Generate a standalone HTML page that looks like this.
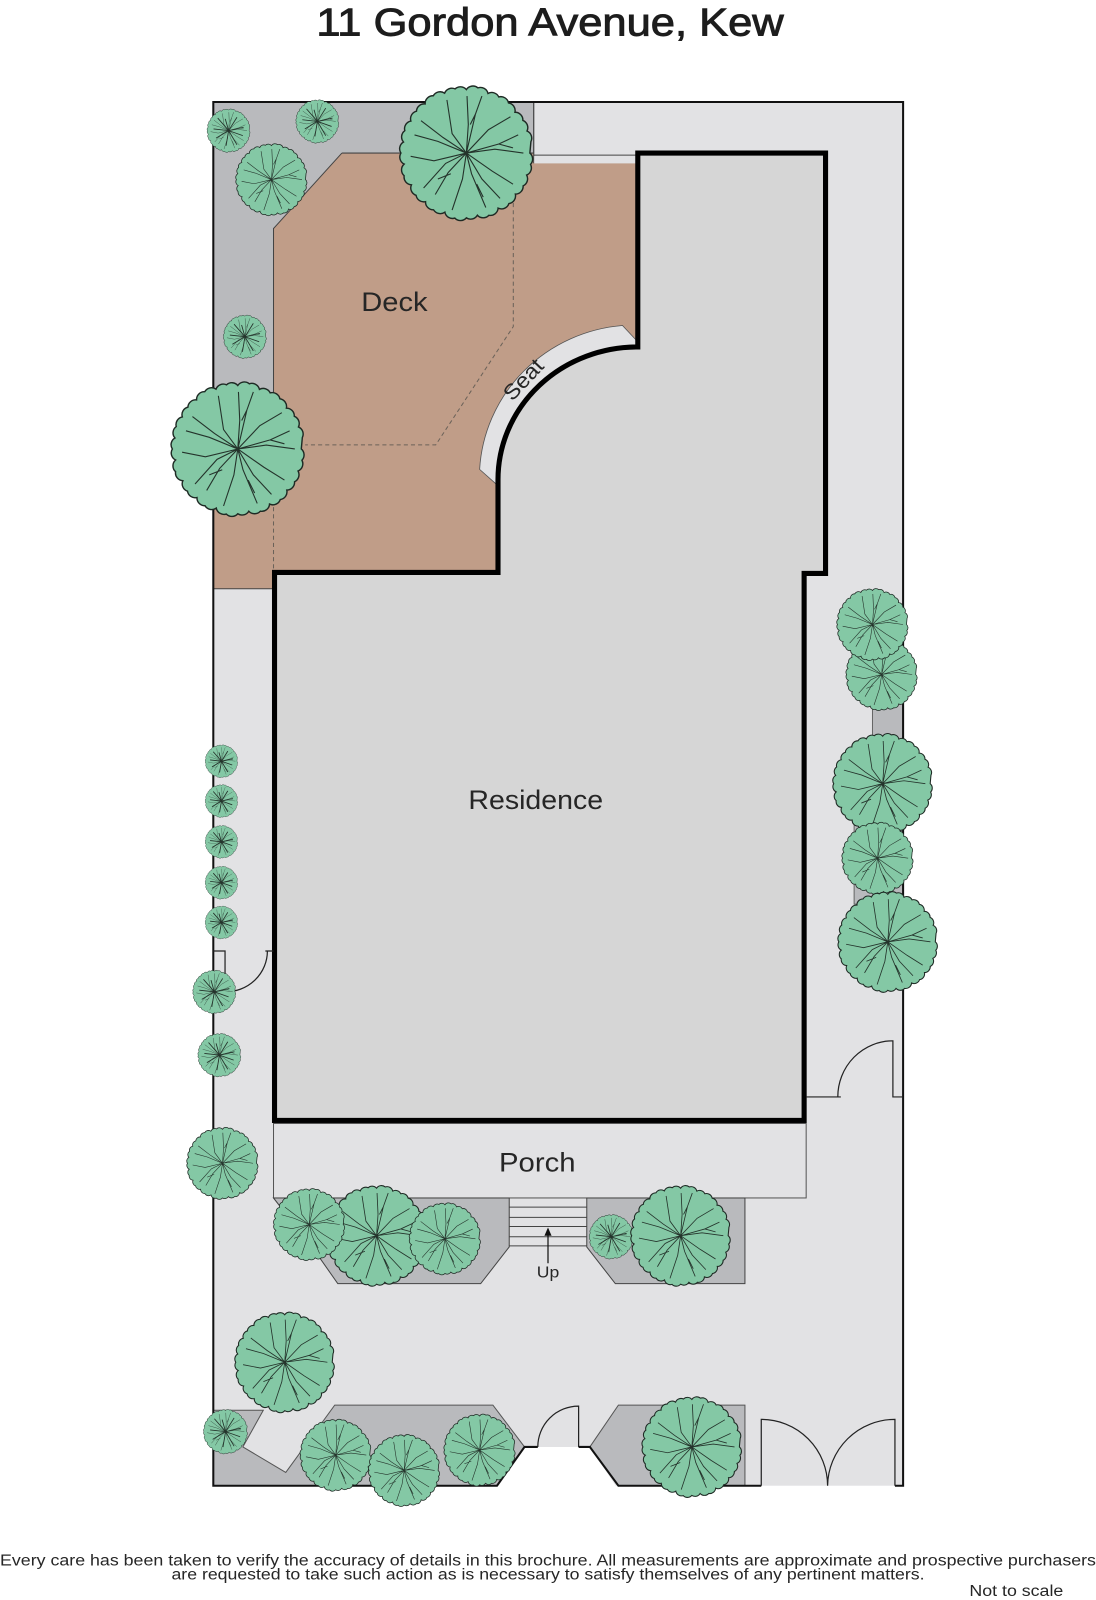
<!DOCTYPE html>
<html><head><meta charset="utf-8"><title>11 Gordon Avenue, Kew</title>
<style>
html,body{margin:0;padding:0;background:#fff}
svg{display:block}
text{font-family:"Liberation Sans",sans-serif;fill:#262626}
.t *{vector-effect:non-scaling-stroke}
.o{fill:#84c8a5;stroke:#1e2a24;stroke-width:1.1}
.b{fill:none;stroke:#24332b;stroke-width:.85}
.l{fill:none;stroke:#222;stroke-width:1.2}
</style></head><body>
<svg xmlns="http://www.w3.org/2000/svg" width="1096" height="1600" viewBox="0 0 1074 1568">
<defs>
<path id="edge" class="o" d="M49 0A6 6 0 0 1 49.5 8.7A6 6 0 0 1 46.5 17A6 6 0 0 1 43.8 25.3A6 6 0 0 1 37.8 31.7A6 6 0 0 1 32.8 39A6 6 0 0 1 24.5 42.5A6 6 0 0 1 17.4 48A6 6 0 0 1 8.5 48A6 6 0 0 1 0 50A6 6 0 0 1 -8.9 50.2A6 6 0 0 1 -16.6 45.6A6 6 0 0 1 -25.3 43.8A6 6 0 0 1 -31.5 37.5A6 6 0 0 1 -38.8 32.6A6 6 0 0 1 -42.4 24.5A6 6 0 0 1 -48 17.5A6 6 0 0 1 -48 8.5A6 6 0 0 1 -50.5 0A6 6 0 0 1 -48.5 -8.5A6 6 0 0 1 -47.5 -17.3A6 6 0 0 1 -42.8 -24.7A6 6 0 0 1 -38.5 -32.3A6 6 0 0 1 -31.8 -37.9A6 6 0 0 1 -25.5 -44.2A6 6 0 0 1 -16.8 -46.2A6 6 0 0 1 -8.7 -49.5A6 6 0 0 1 0 -49A6 6 0 0 1 8.9 -50.3A6 6 0 0 1 16.7 -46A6 6 0 0 1 25 -43.3A6 6 0 0 1 32.5 -38.7A6 6 0 0 1 37.5 -31.5A6 6 0 0 1 43.6 -25.2A6 6 0 0 1 46.8 -17A6 6 0 0 1 49.8 -8.8Z"/>
<path id="br" class="b" d="M0 0L-11 -15L-15 -41M0 0L1.5 -22L0.5 -44M0 0L7 -30L12 -44M7 -30L3 -22M0 0L17 -18L34 -28M0 0L25 -7L40 -14M25 -7L36 -4M0 0L22 -3L44 0M0 0L20 14L36 24M0 0L12 20L26 35M0 0L4 16L15 42M8 24L13 34M0 0L-3 20L-11 44M0 0L-14 15L-24 32M0 0L-16 8L-33 27M-12 16L-22 20M0 0L-25 6L-43 2.5M0 0L-22 -9L-40 -14M0 0L-18 -12L-35 -25"/>
<g id="t" class="t"><use href="#edge"/><use href="#br"/></g>
<g id="s" class="t"><use href="#edge"/><use href="#br"/><path class="b" d="M0 0L-8 -28M0 0L20 -32M0 0L36 -8M0 0L34 12M0 0L20 34M0 0L-6 36M0 0L-30 18M0 0L-36 -4M0 0L-26 -30"/></g>
</defs>

<!-- site -->
<rect x="209" y="100" width="676" height="1356" fill="#e2e2e4"/>
<!-- driveway cut -->
<path d="M514 1418H578L606 1460H486Z" fill="#fff"/>
<path d="M527 1418H567V1458H527Z" fill="#fff"/>
<path d="M527 1378H567V1418H527Z" fill="#e2e2e4"/>

<!-- top-left garden -->
<path d="M209 100H523V160H335L268 224V460H209Z" fill="#b9babd" stroke="#555" stroke-width="1"/>
<!-- right garden strips -->
<path d="M855 670H885V740H855Z" fill="#b9babd" stroke="#666" stroke-width="1"/>
<path d="M837 800H885V886H837Z" fill="#b9babd" stroke="#666" stroke-width="1"/>
<!-- deck -->
<path d="M335 150H523V160H625V340A137 130 0 0 0 488 470V561H268V577H209V440H268V224Z" fill="#c09d88"/>
<path d="M335 150H523M335 150L268 224V440M209 577H268M523 100V160" fill="none" stroke="#444" stroke-width="1"/>
<path d="M523 152H625" stroke="#444" stroke-width="1" fill="none"/>
<rect x="523.500" y="153" width="101" height="7" fill="#e2e2e4"/>
<path d="M503 178V320L427 436H299M268 490V561" fill="none" stroke="#6b6259" stroke-width="1" stroke-dasharray="4 3"/>
<!-- seat -->
<path d="M610 319L625 335V340A137 130 0 0 0 488 470V476L470 460A153 150 0 0 1 610 319Z" fill="#e2e2e4" stroke="#555" stroke-width=".8"/>
<!-- residence -->
<path d="M625 150H809V562H788V1098H269V561H488V470A137 130 0 0 1 625 340Z" fill="#d6d6d6" stroke="#000" stroke-width="5"/>
<!-- porch -->
<rect x="268" y="1101" width="522" height="73" fill="#e2e2e4" stroke="#555" stroke-width="1"/>
<!-- porch gardens -->
<path d="M268 1174H499V1222L471 1258H331L310 1228Z" fill="#b9babd" stroke="#444" stroke-width="1"/>
<path d="M575 1174H730V1258H603L575 1222Z" fill="#b9babd" stroke="#444" stroke-width="1"/>
<!-- stairs -->
<path d="M499 1183H575M499 1193H575M499 1202H575M499 1212H575M499 1221H575" stroke="#444" stroke-width="1" fill="none"/>
<path d="M537 1238V1210" stroke="#111" stroke-width="1.2"/>
<path d="M537 1203L533.500 1211H540.500Z" fill="#111"/>
<!-- bottom gardens -->
<path d="M209 1382H258L238 1418L280 1443L328 1377H483L514 1418L487 1456H209Z" fill="#b9babd" stroke="#555" stroke-width="1"/>
<path d="M578 1418L606 1377H730V1456H606Z" fill="#b9babd" stroke="#555" stroke-width="1"/>

<!-- boundary -->
<path d="M730 1456H746M877 1456H885V100H523M523 100H209V1456H487L514 1418H527M567 1418H578L606 1456H730" fill="none" stroke="#111" stroke-width="2"/>
<!-- gates / doors -->
<path class="l" d="M527 1418A40 40 0 0 1 567 1378V1418"/>
<path class="l" d="M746 1456V1391A65 65 0 0 1 811 1456A66 66 0 0 1 877 1391V1456"/>
<path class="l" d="M790 1075H824M821 1075A54 55 0 0 1 875 1020V1075H885"/>
<path class="l" d="M209 932H220.500V972M220.500 972A41 40 0 0 0 262 932M260 932H268"/>

<!-- trees -->
<use href="#s" transform="translate(224,128) scale(.41)"/>
<use href="#s" transform="translate(311,119) scale(.41)"/>
<use href="#t" transform="translate(266,176) scale(.68)"/>
<use href="#t" transform="translate(457,150) scale(1.27)"/>
<use href="#s" transform="translate(240,330) scale(.41)"/>
<use href="#t" transform="translate(233,440) scale(1.27)"/>

<use href="#t" transform="translate(864,661) scale(.68)"/>
<use href="#t" transform="translate(855,612) scale(.68)"/>
<use href="#t" transform="translate(865,768) scale(.95)"/>
<use href="#t" transform="translate(860,841) scale(.68)"/>
<use href="#t" transform="translate(870,923) scale(.95)"/>

<use href="#s" transform="translate(217,746) scale(.31)"/>
<use href="#s" transform="translate(217,785) scale(.31)"/>
<use href="#s" transform="translate(217,825) scale(.31)"/>
<use href="#s" transform="translate(217,865) scale(.31)"/>
<use href="#s" transform="translate(217,904) scale(.31)"/>
<use href="#s" transform="translate(210,972) scale(.41)"/>
<use href="#s" transform="translate(215,1034) scale(.41)"/>
<use href="#t" transform="translate(218,1140) scale(.68)"/>

<use href="#t" transform="translate(369,1211) scale(.95)"/>
<use href="#t" transform="translate(303,1200) scale(.68)"/>
<use href="#t" transform="translate(436,1214) scale(.68)"/>
<use href="#s" transform="translate(599,1212) scale(.42)"/>
<use href="#t" transform="translate(667,1211) scale(.95)"/>

<use href="#t" transform="translate(279,1335) scale(.95)"/>
<use href="#s" transform="translate(221,1403) scale(.42)"/>
<use href="#t" transform="translate(329,1426) scale(.68)"/>
<use href="#t" transform="translate(396,1441) scale(.68)"/>
<use href="#t" transform="translate(470,1421) scale(.68)"/>
<use href="#t" transform="translate(678,1418) scale(.95)"/>

<!-- labels -->
<text x="310" y="35" font-size="38" stroke="#1d1d1d" stroke-width=".9" style="fill:#1d1d1d" textLength="458" lengthAdjust="spacingAndGlyphs">11 Gordon Avenue, Kew</text>
<text x="354" y="305" font-size="26" textLength="65" lengthAdjust="spacingAndGlyphs">Deck</text>
<text x="459" y="793" font-size="26" textLength="132" lengthAdjust="spacingAndGlyphs">Residence</text>
<text x="489" y="1148" font-size="26" textLength="75" lengthAdjust="spacingAndGlyphs">Porch</text>
<text transform="translate(502,394) rotate(-47)" font-size="21" textLength="47" lengthAdjust="spacingAndGlyphs">Seat</text>
<text x="526" y="1252" font-size="15" textLength="22" lengthAdjust="spacingAndGlyphs">Up</text>
<text x="0" y="1534" font-size="15.500" textLength="1074" lengthAdjust="spacingAndGlyphs">Every care has been taken to verify the accuracy of details in this brochure.  All measurements are approximate and prospective purchasers</text>
<text x="168" y="1548" font-size="15.500" textLength="738" lengthAdjust="spacingAndGlyphs">are requested to take such action as is necessary to satisfy themselves of any pertinent matters.</text>
<text x="950" y="1564" font-size="15.500" textLength="92" lengthAdjust="spacingAndGlyphs">Not to scale</text>
</svg>
</body></html>
